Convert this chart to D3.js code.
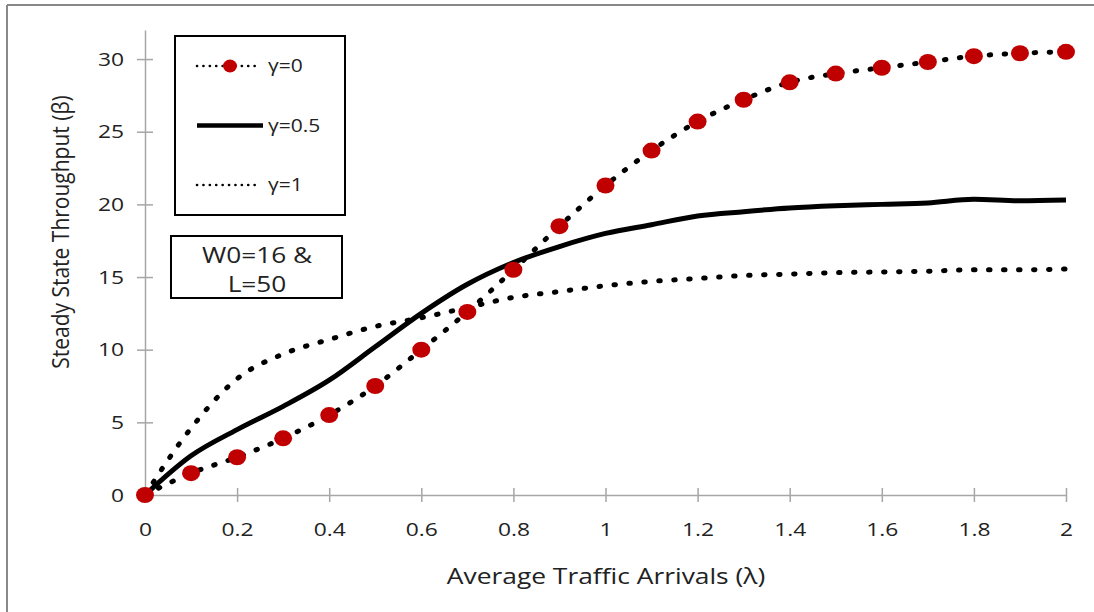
<!DOCTYPE html>
<html>
<head>
<meta charset="utf-8">
<script src="https://cdn.jsdelivr.net/npm/d3@7"></script>
<style>
  body { margin: 0; background: #fff; }
  svg { display: block; }
  text { font-family: "Open Sans", sans-serif; fill: #222; }
</style>
</head>
<body>
<svg width="1094" height="612"></svg>
<script>
var lambda = [0, 0.1, 0.2, 0.3, 0.4, 0.5, 0.6, 0.7, 0.8, 0.9, 1.0,
              1.1, 1.2, 1.3, 1.4, 1.5, 1.6, 1.7, 1.8, 1.9, 2.0];
var gamma0 = [0, 1.5, 2.6, 3.9, 5.5, 7.5, 10.0, 12.6, 15.5, 18.5, 21.3,
              23.7, 25.7, 27.2, 28.4, 29.0, 29.4, 29.8, 30.2, 30.4, 30.5];
var gamma05 = [0, 2.7, 4.5, 6.1, 7.9, 10.2, 12.5, 14.5, 16.0, 17.1, 18.0,
               18.6, 19.2, 19.5, 19.75, 19.9, 20.0, 20.1, 20.35, 20.25, 20.3];
var gamma1 = [0, 4.6, 8.0, 9.7, 10.7, 11.6, 12.2, 12.9, 13.6, 14.0, 14.4,
              14.7, 14.9, 15.1, 15.2, 15.3, 15.35, 15.4, 15.5, 15.5, 15.55];
var yTicks = [0, 5, 10, 15, 20, 25, 30];
var xTicks = [0, 0.2, 0.4, 0.6, 0.8, 1, 1.2, 1.4, 1.6, 1.8, 2];
var legendLabels = ["γ=0", "γ=0.5", "γ=1"];
var noteLines = ["W0=16 &", "L=50"];

var svg = d3.select("svg"),
    stretch = 1.2,
    x = d3.scaleLinear().domain([0, 2]).range([145, 1066]),
    y = d3.scaleLinear().domain([0, 32]).range([495, 30]),
    red = "#c00000";

// outer frame (only top and left edges show)
svg.append("line").attr("x1", 7).attr("x2", 1094).attr("y1", 5).attr("y2", 5)
    .attr("stroke", "#888").attr("stroke-width", 2);
svg.append("line").attr("x1", 7).attr("x2", 7).attr("y1", 5).attr("y2", 612)
    .attr("stroke", "#888").attr("stroke-width", 2);

// axes
var yAxis = svg.append("g")
    .attr("transform", "translate(" + x(0) + ",0)")
    .call(d3.axisLeft(y).tickValues(yTicks).tickSizeInner(8).tickSizeOuter(0));
var xAxis = svg.append("g")
    .attr("transform", "translate(0," + y(0) + ")")
    .call(d3.axisBottom(x).tickValues(xTicks).tickSizeInner(7).tickSizeOuter(0)
        .tickFormat(function(d) { return String(+d.toFixed(1)); }).tickPadding(21));

[yAxis, xAxis].forEach(function(a) {
    a.select(".domain").attr("stroke", "#a6a6a6").attr("stroke-width", 1.5);
    a.selectAll(".tick line").attr("stroke", "#a6a6a6").attr("stroke-width", 1.5);
    a.selectAll(".tick text").attr("fill", "#222").style("font-size", "19px")
        .attr("font-family", null);
});
yAxis.selectAll(".tick line").attr("x1", 8);
yAxis.selectAll(".tick text").attr("transform", "scale(" + stretch + ",1)").attr("x", -21 / stretch);
xAxis.selectAll(".tick line").attr("y1", -7);
xAxis.selectAll(".tick text").attr("transform", "scale(" + stretch + ",1)");

// axis titles
svg.append("text")
    .attr("transform", "translate(606,584) scale(" + stretch + ",1)")
    .attr("text-anchor", "middle")
    .style("font-size", "22px")
    .text("Average Traffic Arrivals (λ)");
svg.append("text")
    .attr("transform", "translate(69,232) rotate(-90) scale(1," + 1.15 + ")")
    .attr("text-anchor", "middle")
    .style("font-size", "21px")
    .text("Steady State Throughput (β)");

// series
var line = d3.line()
    .x(function(d, i) { return x(lambda[i]); })
    .y(function(d) { return y(d); })
    .curve(d3.curveMonotoneX);

svg.append("path").datum(gamma1)
    .attr("d", line).attr("fill", "none").attr("stroke", "#000")
    .attr("stroke-width", 5).attr("stroke-linecap", "round")
    .attr("stroke-dasharray", "1.5 13.5");

svg.append("path").datum(gamma05)
    .attr("d", line).attr("fill", "none").attr("stroke", "#000")
    .attr("stroke-width", 5);

svg.append("path").datum(gamma0)
    .attr("d", line).attr("fill", "none").attr("stroke", "#000")
    .attr("stroke-width", 5).attr("stroke-linecap", "round")
    .attr("stroke-dasharray", "1.5 13.5");

svg.selectAll(".marker").data(gamma0).enter().append("ellipse")
    .attr("class", "marker")
    .attr("cx", function(d, i) { return x(lambda[i]); })
    .attr("cy", function(d) { return y(d); })
    .attr("rx", 9).attr("ry", 8)
    .attr("fill", red);

// legend
svg.append("rect").attr("x", 175).attr("y", 36).attr("width", 170).attr("height", 179)
    .attr("fill", "#fff").attr("stroke", "#000").attr("stroke-width", 2);

var legend = svg.append("g").selectAll("g")
    .data(legendLabels).enter().append("g")
    .attr("transform", function(d, i) { return "translate(196," + (66 + i * 59.5) + ")"; });

legend.append("line")
    .attr("x1", 1)
    .attr("x2", function(d, i) { return i == 1 ? 67 : 62; })
    .attr("stroke", "#000")
    .attr("stroke-width", function(d, i) { return i == 1 ? 4.5 : 2.6; })
    .attr("stroke-linecap", function(d, i) { return i == 1 ? "butt" : "round"; })
    .attr("stroke-dasharray", function(d, i) { return i == 1 ? null : "0.1 6.3"; });

legend.filter(function(d, i) { return i == 0; })
    .append("ellipse").attr("cx", 34).attr("rx", 7).attr("ry", 6.5).attr("fill", red);

legend.append("text")
    .attr("transform", "translate(72,6) scale(" + stretch + ",1)")
    .style("font-size", "17.5px")
    .text(function(d) { return d; });

// parameter note
svg.append("rect").attr("x", 171).attr("y", 236).attr("width", 171).attr("height", 62)
    .attr("fill", "#fff").attr("stroke", "#000").attr("stroke-width", 2);
svg.append("g").selectAll("text").data(noteLines).enter().append("text")
    .attr("transform", function(d, i) { return "translate(257," + (263 + i * 29) + ") scale(1.25,1)"; })
    .attr("text-anchor", "middle")
    .style("font-size", "21px")
    .text(function(d) { return d; });
</script>
</body>
</html>
